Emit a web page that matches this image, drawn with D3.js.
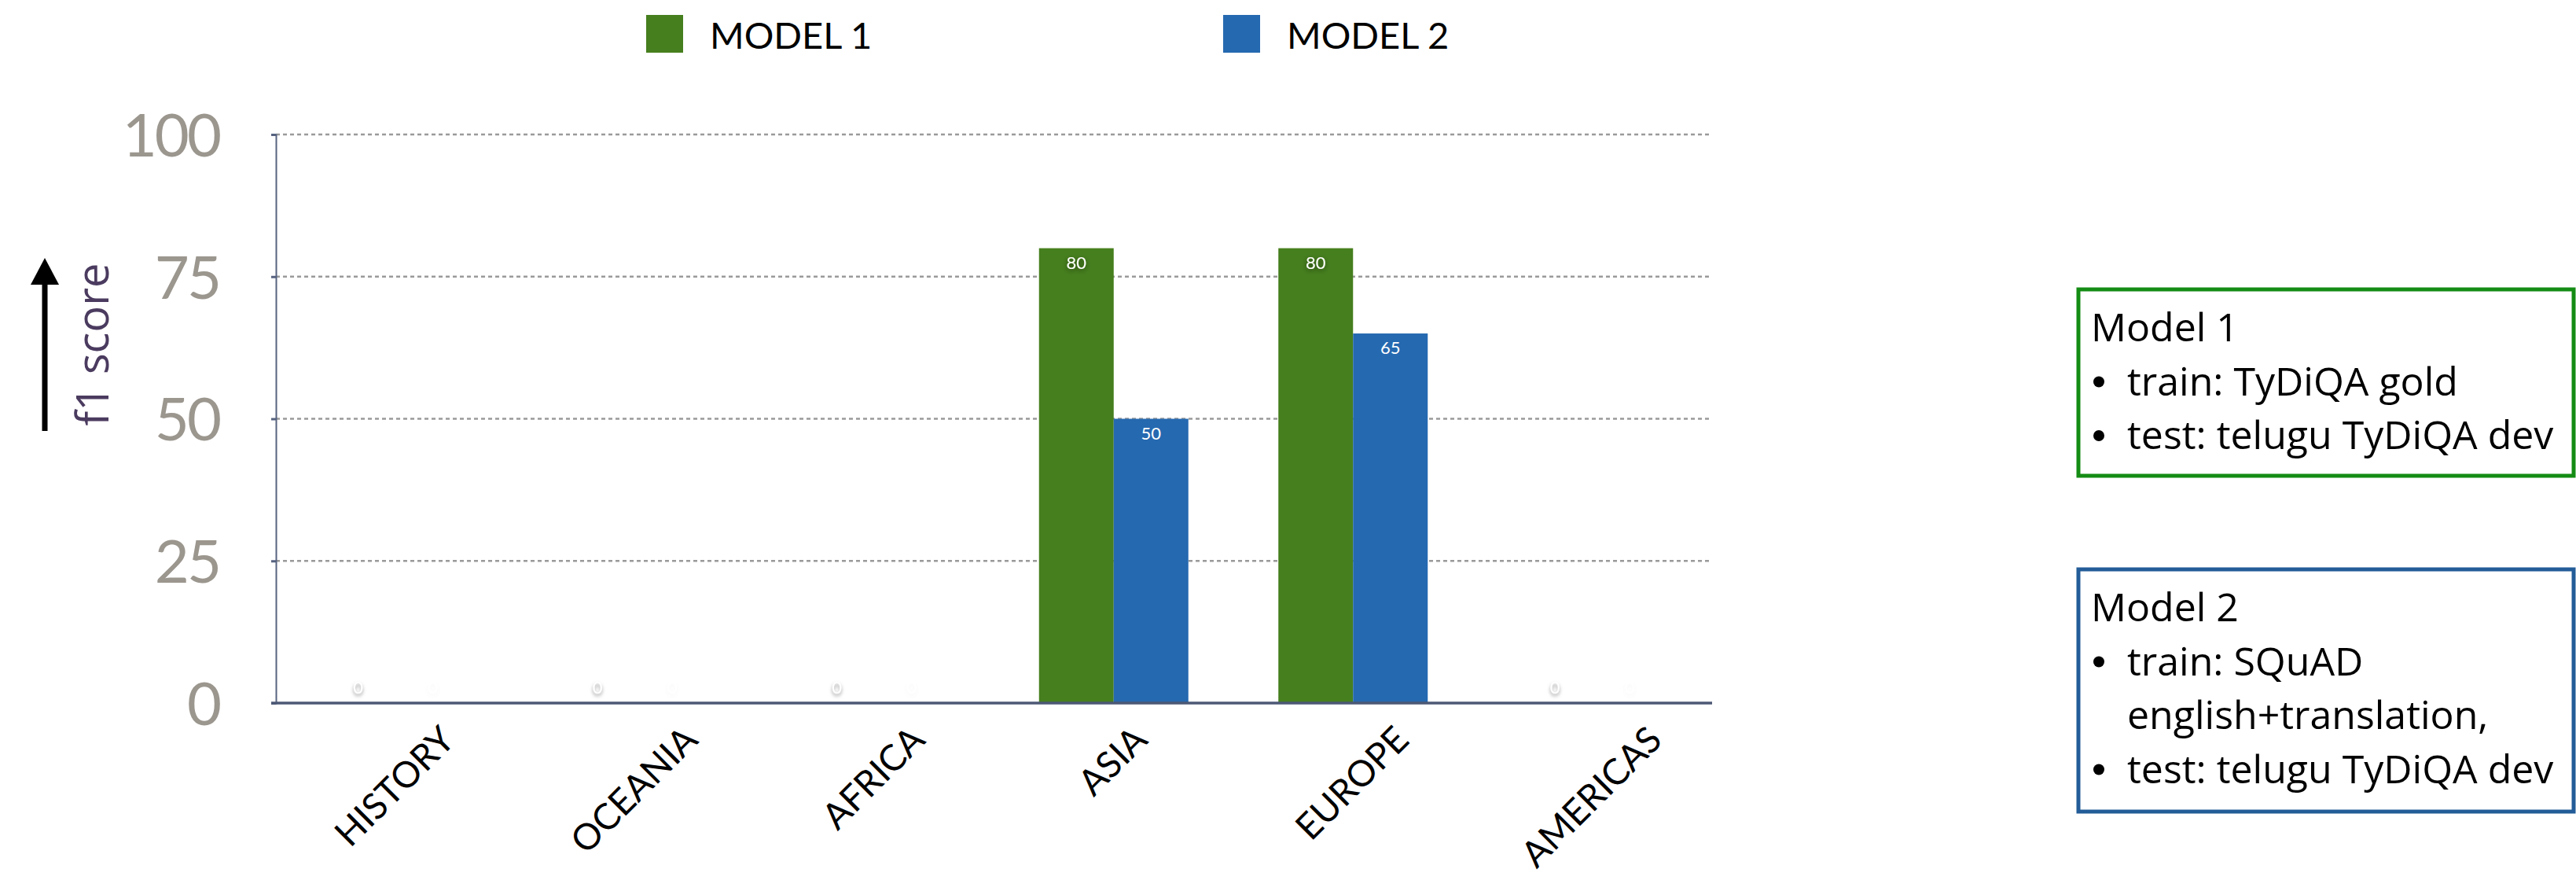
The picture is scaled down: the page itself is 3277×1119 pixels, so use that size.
<!DOCTYPE html>
<html>
    <head>
        <meta charset="UTF-8"/>
        <style>
            body { margin: 0; background: #fff; }
        </style>
    </head>
    <body>
        <script src="https://d3js.org/d3.v7.min.js" type="text/javascript"></script>
        <script>
        let width = 3277;
        let height = 1119;

        // data
        let categories = ["HISTORY", "OCEANIA", "AFRICA", "ASIA", "EUROPE", "AMERICAS"];
        let seriesNames = ["MODEL 1", "MODEL 2"];
        let model1 = [0, 0, 0, 80, 80, 0];
        let model2 = [0, 0, 0, 50, 65, 0];
        let yTicks = [0, 25, 50, 75, 100];
        let colors = ["#467f1e", "#2569b0"];
        let note1 = ["Model 1", "train: TyDiQA gold", "test: telugu TyDiQA dev"];
        let note2 = ["Model 2", "train: SQuAD", "english+translation,", "test: telugu TyDiQA dev"];

        let futura = "Lato, 'Open Sans', sans-serif";
        let avenir = "'Open Sans', Lato, sans-serif";

        let svg = d3.select("body")
            .append("svg")
            .attr("width", width)
            .attr("height", height);

        let defs = svg.append("defs");
        defs.append("filter").attr("id", "darkGlow")
            .attr("x", "-50%").attr("y", "-50%").attr("width", "200%").attr("height", "200%")
            .append("feDropShadow")
            .attr("dx", 0).attr("dy", 2).attr("stdDeviation", 3)
            .attr("flood-color", "#000").attr("flood-opacity", 0.55);
        defs.append("filter").attr("id", "greyGlow")
            .attr("x", "-80%").attr("y", "-50%").attr("width", "260%").attr("height", "200%")
            .append("feDropShadow")
            .attr("dx", 0).attr("dy", 3).attr("stdDeviation", 2)
            .attr("flood-color", "#777").attr("flood-opacity", 0.8);
        defs.append("filter").attr("id", "faintGlow")
            .attr("x", "-80%").attr("y", "-50%").attr("width", "260%").attr("height", "200%")
            .append("feDropShadow")
            .attr("dx", 0).attr("dy", 3).attr("stdDeviation", 2)
            .attr("flood-color", "#777").attr("flood-opacity", 0.06);

        let x0 = d3.scaleBand()
            .domain(categories)
            .range([351, 2178])
            .paddingInner(0.376)
            .paddingOuter(0.188);
        let x1 = d3.scaleBand()
            .domain([0, 1])
            .range([0, x0.bandwidth()]);
        let y = d3.scaleLinear()
            .domain([0, 100])
            .range([894, 171]);

        // gridlines
        svg.append("g")
            .selectAll("line")
            .data(yTicks.filter(function(d) { return d > 0; }))
            .enter()
            .append("line")
            .attr("x1", 351)
            .attr("x2", 2178)
            .attr("y1", function(d) { return y(d); })
            .attr("y2", function(d) { return y(d); })
            .attr("stroke", "#9a9a9a")
            .attr("stroke-width", 2.5)
            .attr("stroke-dasharray", "5,4");

        // y axis
        let yAxis = svg.append("g")
            .attr("transform", "translate(351,0)")
            .call(d3.axisLeft(y).tickValues(yTicks).tickSize(6).tickPadding(66));
        yAxis.select(".domain").attr("stroke", "#56627f").attr("stroke-width", 2);
        yAxis.selectAll(".tick line").attr("stroke", "#56627f").attr("stroke-width", 3);
        yAxis.selectAll(".tick text")
            .attr("fill", "#9b968e")
            .attr("font-family", futura)
            .attr("font-size", 76)
            .attr("letter-spacing", -3)
            .attr("dy", "0.36em");

        // bars
        let rows = categories.map(function(c, i) {
            return {cat: c, values: [model1[i], model2[i]]};
        });
        let groups = svg.append("g")
            .selectAll("g")
            .data(rows)
            .enter()
            .append("g")
            .attr("transform", function(d) { return "translate(" + x0(d.cat) + ",0)"; });
        groups.selectAll("rect")
            .data(function(d) { return d.values; })
            .enter()
            .append("rect")
            .attr("x", function(d, i) { return x1(i); })
            .attr("y", function(d) { return y(d); })
            .attr("width", x1.bandwidth())
            .attr("height", function(d) { return y(0) - y(d); })
            .attr("fill", function(d, i) { return colors[i]; });
        groups.selectAll("text")
            .data(function(d) { return d.values; })
            .enter()
            .append("text")
            .attr("x", function(d, i) { return x1(i) + x1.bandwidth() / 2; })
            .attr("y", function(d) { return d > 0 ? y(d) + 26 : y(0) - 12; })
            .attr("text-anchor", "middle")
            .attr("fill", "#fff")
            .attr("font-family", futura)
            .attr("font-size", 22)
            .attr("filter", function(d, i) {
                if (d === 0) return i === 0 ? "url(#greyGlow)" : "url(#faintGlow)";
                return i === 0 ? "url(#darkGlow)" : null;
            })
            .text(function(d) { return d; });

        // x axis
        let xAxis = svg.append("g")
            .attr("transform", "translate(0," + y(0) + ")")
            .call(d3.axisBottom(x0).tickSize(0).tickSizeOuter(0));
        xAxis.select(".domain")
            .attr("d", "M345,0H2178")
            .attr("stroke", "#4c5875")
            .attr("stroke-width", 3.5);
        let labelSize = 46;
        xAxis.selectAll(".tick text")
            .attr("fill", "#000")
            .attr("font-family", futura)
            .attr("font-size", labelSize)
            .attr("text-anchor", "middle")
            .attr("dy", 0)
            .attr("y", 0)
            .each(function() {
                let len = this.getComputedTextLength();
                let cap = 0.72 * labelSize;
                let cy = 920 - y(0) + 0.354 * len + 0.707 * cap;
                d3.select(this).attr("transform", "translate(10," + cy + ") rotate(-45)");
            });

        // y title with arrow
        svg.append("line")
            .attr("x1", 57).attr("x2", 57)
            .attr("y1", 548).attr("y2", 360)
            .attr("stroke", "#000").attr("stroke-width", 7);
        svg.append("path")
            .attr("d", "M39,362L75,362L57,328Z")
            .attr("fill", "#000");
        svg.append("text")
            .attr("transform", "translate(138,438) rotate(-90)")
            .attr("text-anchor", "middle")
            .attr("fill", "#4b3b5f")
            .attr("font-family", avenir)
            .attr("font-size", 56)
            .text("f1 score");

        // legend
        let legendX = [822, 1556];
        let legend = svg.append("g")
            .selectAll("g")
            .data(seriesNames)
            .enter()
            .append("g")
            .attr("transform", function(d, i) { return "translate(" + legendX[i] + ",19)"; });
        legend.append("rect")
            .attr("width", 47).attr("height", 48)
            .attr("fill", function(d, i) { return colors[i]; });
        legend.append("text")
            .attr("x", 81).attr("y", 43)
            .attr("font-family", futura)
            .attr("font-size", 47)
            .attr("fill", "#000")
            .text(function(d) { return d; });

        // note boxes
        function noteBox(lines, top, h, stroke, bullets) {
            let g = svg.append("g");
            g.append("rect")
                .attr("x", 2644).attr("y", top)
                .attr("width", 630).attr("height", h)
                .attr("fill", "none")
                .attr("stroke", stroke)
                .attr("stroke-width", 5);
            g.selectAll("text")
                .data(lines)
                .enter()
                .append("text")
                .attr("x", function(d, i) { return i === 0 ? 2660 : 2706; })
                .attr("y", function(d, i) { return top + 66 + i * 68.5; })
                .attr("font-family", avenir)
                .attr("font-size", 50)
                .attr("fill", "#000")
                .text(function(d) { return d; });
            g.selectAll("circle")
                .data(bullets)
                .enter()
                .append("circle")
                .attr("cx", 2670)
                .attr("cy", function(d) { return top + 66 + d * 68.5 - 17; })
                .attr("r", 7)
                .attr("fill", "#000");
        }
        noteBox(note1, 368, 237, "#148c14", [1, 2]);
        noteBox(note2, 724, 308, "#235c98", [1, 3]);
        </script>
    </body>
</html>
